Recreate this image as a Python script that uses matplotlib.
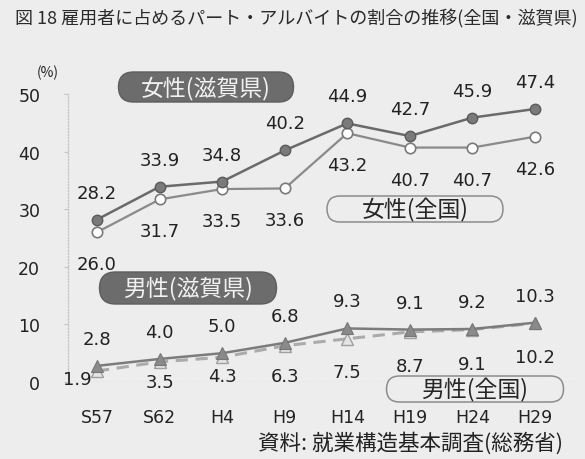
import matplotlib
matplotlib.use("Agg")
import matplotlib.pyplot as plt
from matplotlib.patches import FancyBboxPatch

plt.rcParams['font.family'] = ['Noto Sans CJK JP', 'DejaVu Sans']
NUM_FONT = ['DejaVu Sans']

# Survey years (Showa / Heisei)
years = ['S57', 'S62', 'H4', 'H9', 'H14', 'H19', 'H24', 'H29']

# Share of part-time / arbeit workers among employees (%)
female_shiga = [28.2, 33.9, 34.8, 40.2, 44.9, 42.7, 45.9, 47.4]
female_national = [26.0, 31.7, 33.5, 33.6, 43.2, 40.7, 40.7, 42.6]
male_shiga = [2.8, 4.0, 5.0, 6.8, 9.3, 9.1, 9.2, 10.3]
male_national = [1.9, 3.5, 4.3, 6.3, 7.5, 8.7, 9.1, 10.2]

y_ticks = [0, 10, 20, 30, 40, 50]

title = '図 18 雇用者に占めるパート・アルバイトの割合の推移(全国・滋賀県)'
source = '資料: 就業構造基本調査(総務省)'

BG = '#ededed'
W, H = 585, 460

fig = plt.figure(figsize=(W / 100, H / 100), dpi=100, facecolor=BG)

# main plotting area, in pixel terms: x 68..575, y 95..383
left, right, top, bottom = 68, 575, 95, 383
ax = fig.add_axes([left / W, (H - bottom) / H, (right - left) / W, (bottom - top) / H])
ax.set_facecolor('none')

x = list(range(len(years)))
unit = (535 - 97) / 7
ax.set_xlim(-(97 - left) / unit, 7 + (right - 535) / unit)
ax.set_ylim(0, 50)

# series
ax.plot(x, female_national, '-', color='#8a8a8a', lw=1.6, marker='o', ms=7.5,
        mfc='white', mec='#7a7a7a', mew=1.2, zorder=3)
ax.plot(x, female_shiga, '-', color='#6a6a6a', lw=1.8, marker='o', ms=7.5,
        mfc='#7a7a7a', mec='#5a5a5a', mew=1.0, zorder=4)
ax.plot(x, male_national, '--', color='#ababab', lw=2.2, dashes=(4, 2.5), marker='^', ms=8,
        mfc='#e4e4e4', mec='#a0a0a0', mew=1.0, zorder=3)
ax.plot(x, male_shiga, '-', color='#7c7c7c', lw=1.8, marker='^', ms=8.5,
        mfc='#8a8a8a', mec='#777777', mew=0.8, zorder=4)

# value labels (offsets in pixels)
def label_series(values, offsets):
    for xi, v, (dx, dy) in zip(x, values, offsets):
        ax.annotate(f'{v:.1f}', (xi, v), xytext=(dx, dy), textcoords='offset pixels',
                    ha='center', va='center', fontsize=13, color='#222222',
                    family=NUM_FONT, annotation_clip=False, zorder=6)

label_series(female_shiga, [(0, 27)] * 8)
label_series(female_national, [(0, -32)] * 8)
label_series(male_shiga, [(0, 27)] * 8)
label_series(male_national, [(-20, -8), (0, -20), (0, -19), (0, -30),
                             (0, -33), (0, -34), (0, -34), (0, -34)])

# axes styling
for s in ['top', 'right', 'bottom']:
    ax.spines[s].set_visible(False)
ax.spines['left'].set_color('#c4c4c4')
ax.spines['left'].set_linestyle((0, (1, 1.5)))
ax.spines['left'].set_linewidth(0.9)
ax.axhline(0, color='#b8b8b8', lw=0.9, ls=(0, (1, 1.5)), zorder=1)

ax.set_yticks(y_ticks)
ax.set_yticklabels([str(t) for t in y_ticks], family=NUM_FONT)
ax.set_xticks(x)
ax.set_xticklabels(years, family=NUM_FONT)
ax.tick_params(axis='y', length=3, color='#c4c4c4', pad=17, labelsize=12.5, labelcolor='#222222')
ax.tick_params(axis='x', length=0, pad=19, labelsize=12.5, labelcolor='#222222')

# overlay in pixel coordinates for titles and series tags
ov = fig.add_axes([0, 0, 1, 1], zorder=5)
ov.set_xlim(0, W)
ov.set_ylim(H, 0)
ov.axis('off')
ov.patch.set_visible(False)

ov.text(15, 19, title, fontsize=13, color='#2a2a2a', ha='left', va='center')
ov.text(48, 73, '(%)', fontsize=10, color='#222222', ha='center', va='center')
ov.text(563, 443, source, fontsize=15.5, color='#222222', ha='right', va='center')


def tag(cx, cy, w, h, text, dark):
    fc = '#6c6c6c' if dark else BG
    ec = '#5e5e5e' if dark else '#8c8c8c'
    box = FancyBboxPatch((cx - w / 2, cy - h / 2), w, h,
                         boxstyle=f'round,pad=0,rounding_size={h / 2}',
                         fc=fc, ec=ec, lw=1.0 if dark else 1.1)
    ov.add_patch(box)
    ov.text(cx, cy, text, fontsize=16.5, ha='center', va='center',
            color='#f2f2f2' if dark else '#262626')


tag(206, 88, 175, 30, '女性(滋賀県)', True)
tag(415, 210, 176, 26, '女性(全国)', False)
tag(188, 289, 177, 32, '男性(滋賀県)', True)
tag(475, 390, 177, 26, '男性(全国)', False)

fig.savefig('out.png', dpi=100, facecolor=BG)
